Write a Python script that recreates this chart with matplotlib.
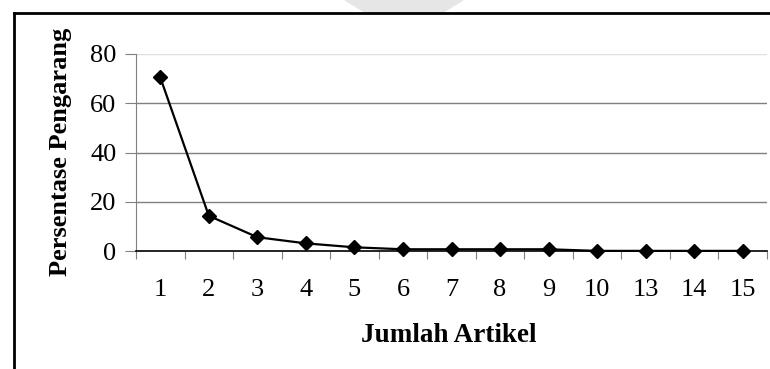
import matplotlib.pyplot as plt
import numpy as np
from matplotlib.lines import Line2D
from matplotlib.patches import Polygon

categories = ["1", "2", "3", "4", "5", "6", "7", "8", "9", "10", "13", "14", "15"]
persen = [70.5, 14.3, 5.6, 3.1, 1.5, 0.7, 0.7, 0.7, 0.7, 0.05, 0.05, 0.05, 0.05]
yticks = [0, 20, 40, 60, 80]

plt.rcParams["font.family"] = "Liberation Serif"

fig = plt.figure(figsize=(7.7, 3.69), dpi=100)
ax = fig.add_axes([136 / 770, 1 - 251 / 369, 631 / 770, 197 / 369])

x = np.arange(len(categories)) + 0.5
ax.plot(x, persen, color="black", lw=1.6, marker="D", ms=7.5, zorder=3, clip_on=False)

ax.set_xlim(0, len(categories))
ax.set_ylim(0, 80)
ax.set_yticks(yticks)
ax.set_yticklabels([str(v) for v in yticks], fontsize=19)
for v in yticks[1:]:
    ax.axhline(v, color="#7f7f7f" if v < 80 else "#e0e0e0", lw=1, zorder=1)

ax.set_xticks(np.arange(len(categories) + 1))
ax.set_xticklabels([])
ax.set_xticks(x, minor=True)
ax.set_xticklabels(categories, minor=True, fontsize=19)
ax.tick_params(axis="x", which="major", direction="out", length=6, color="#808080")
ax.tick_params(axis="x", which="minor", length=0, pad=20)
ax.tick_params(axis="y", direction="out", length=8, color="#808080", pad=6)

for s in ["top", "right"]:
    ax.spines[s].set_visible(False)
ax.spines["left"].set_color("#808080")
ax.spines["bottom"].set_color("black")
ax.spines["bottom"].set_linewidth(1.2)

fig.text(60 / 770, 1 - 152 / 369, "Persentase Pengarang", rotation=90, ha="center",
         va="center", fontsize=19, fontweight="bold")
fig.text(449 / 770, 1 - 335 / 369, "Jumlah Artikel", ha="center", va="center",
         fontsize=19.5, fontweight="bold")

# outer frame
fig.add_artist(Line2D([14 / 770, 14 / 770], [0, 1 - 13 / 369], color="black", lw=2,
                      transform=fig.transFigure))
fig.add_artist(Line2D([14 / 770, 1], [1 - 13 / 369, 1 - 13 / 369], color="black", lw=2,
                      transform=fig.transFigure))

# faint watermark at top
wm = Polygon([(345 / 770, 1), (463 / 770, 1), (440 / 770, 1 - 14 / 369),
              (368 / 770, 1 - 14 / 369)], closed=True, color="#e6e6e6",
             transform=fig.transFigure, zorder=0)
fig.add_artist(wm)

fig.savefig("out.png", dpi=100)
